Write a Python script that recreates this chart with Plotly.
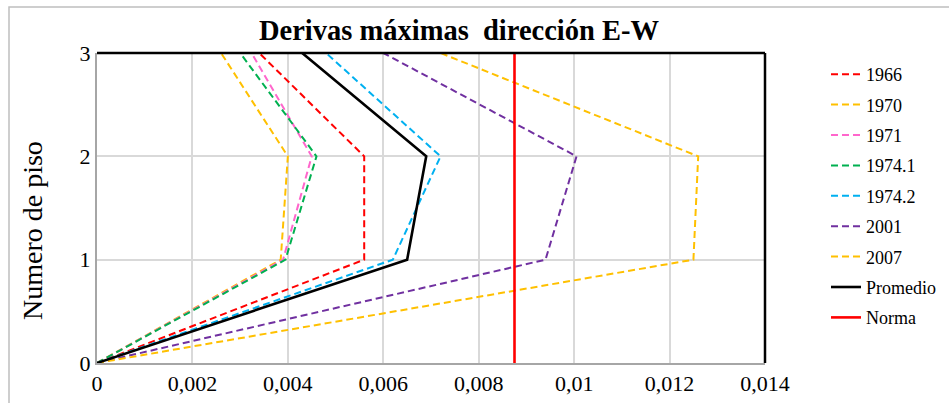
import plotly.graph_objects as go

pisos = [0, 1, 2, 3]
series_names = ["1966", "1970", "1971", "1974.1", "1974.2", "2001", "2007"]
d1966 = [0, 0.0056, 0.0056, 0.0034]
d1970 = [0, 0.00385, 0.0040, 0.0026]
d1971 = [0, 0.0039, 0.0045, 0.00324]
d1974_1 = [0, 0.00395, 0.0046, 0.0030]
d1974_2 = [0, 0.0062, 0.0072, 0.0048]
d2001 = [0, 0.0094, 0.01005, 0.0060]
d2007 = [0, 0.0125, 0.0126, 0.0072]
promedio = [0, 0.0065, 0.0069, 0.0043]
norma_x = [0.00875, 0.00875]
norma_y = [0, 3]
x_ticks = [0, 0.002, 0.004, 0.006, 0.008, 0.01, 0.012, 0.014]
x_ticktext = ["0", "0,002", "0,004", "0,006", "0,008", "0,01", "0,012", "0,014"]
y_ticks = [0, 1, 2, 3]

colors = ["#FF0000", "#FFC000", "#FF66CC", "#00B050", "#00B0F0", "#7030A0", "#FFC000"]
data = [d1966, d1970, d1971, d1974_1, d1974_2, d2001, d2007]

FONT = "Liberation Serif"

fig = go.Figure()
for i, (name, vals) in enumerate(zip(series_names, data)):
    fig.add_trace(go.Scatter(x=vals, y=pisos, mode="lines", name=name,
                             legendgroup=name,
                             line=dict(color=colors[i], width=2, dash="7px,4px")))
fig.add_trace(go.Scatter(x=promedio, y=pisos, mode="lines", name="Promedio",
                         legendgroup="Promedio",
                         line=dict(color="#000000", width=2.6)))
fig.add_trace(go.Scatter(x=norma_x, y=norma_y, mode="lines", name="Norma",
                         legendgroup="Norma",
                         line=dict(color="#FF0000", width=2.6)))

W, H = 949, 403
L, R, T, B = 97, 765, 53, 363
def px(v):
    return (v - L) / (R - L)
def py(v):
    return (B - v) / (B - T)

fig.update_layout(
    width=W, height=H,
    margin=dict(l=L, r=W - R, t=T, b=H - B, autoexpand=False),
    paper_bgcolor="white", plot_bgcolor="white",
    font=dict(family=FONT, color="#000000"),
    title=dict(text="<b>Derivas máximas  dirección E-W</b>",
               x=459 / W, xanchor="center", y=1 - 30 / H, yanchor="middle",
               font=dict(size=28.5, family=FONT)),
    xaxis=dict(range=[0, 0.014], tickvals=x_ticks, ticktext=x_ticktext,
               showgrid=True, gridcolor="#D9D9D9", gridwidth=1.5,
               showline=True, linecolor="#A6A6A6", linewidth=2,
               zeroline=False, ticks="", tickfont=dict(size=22, family=FONT)),
    yaxis=dict(range=[0, 3], tickvals=y_ticks,
               showgrid=True, gridcolor="#D9D9D9", gridwidth=1.5,
               showline=True, linecolor="#A6A6A6", linewidth=2,
               zeroline=False, ticks="", ticklen=0,
               tickfont=dict(size=22, family=FONT)),
    legend=dict(x=px(826), y=py(56), xanchor="left", yanchor="top",
                font=dict(size=18, family=FONT), tracegroupgap=4,
                bgcolor="rgba(0,0,0,0)"),
    showlegend=True,
)

fig.add_annotation(text="Numero de piso", xref="paper", yref="paper",
                   x=px(32), y=py(231), xanchor="center", yanchor="middle",
                   textangle=-90, showarrow=False,
                   font=dict(size=28, family=FONT, color="#000000"))

fig.add_shape(type="line", xref="paper", yref="paper", x0=0, x1=1, y0=1, y1=1,
              line=dict(color="#000000", width=2.5))
fig.add_shape(type="line", xref="paper", yref="paper", x0=1, x1=1, y0=0, y1=1,
              line=dict(color="#000000", width=2.5))
fig.add_shape(type="rect", xref="paper", yref="paper",
              x0=px(9), x1=px(990), y0=py(420), y1=py(7),
              line=dict(color="#BFBFBF", width=1.5), layer="below")

fig.write_html("out.html", config={"displayModeBar": False},
               post_script="document.body.style.margin='0';document.body.style.overflow='hidden';")
